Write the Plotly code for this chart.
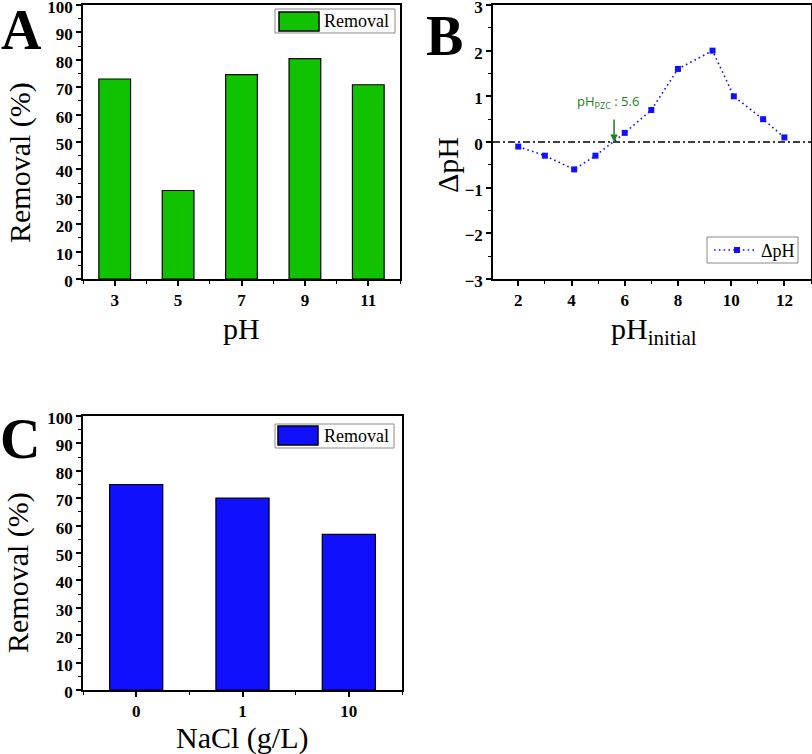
import plotly.graph_objects as go

# ---- data ----
ph_categories = ["3", "5", "7", "9", "11"]
removal_ph = [73.0, 32.3, 74.6, 80.4, 70.9]

ph_initial = [2.0, 3.0, 4.1, 4.9, 6.0, 7.0, 8.0, 9.3, 10.1, 11.2, 12.0]
delta_ph = [-0.1, -0.3, -0.6, -0.3, 0.2, 0.7, 1.6, 2.0, 1.0, 0.5, 0.1]
ph_pzc = 5.6

nacl_categories = ["0", "1", "10"]
removal_nacl = [75.0, 70.0, 56.8]

W, H = 812, 754
GREEN = "rgb(16,194,0)"
BLUE = "rgb(16,16,255)"
ANNOT_GREEN = "rgb(28,128,28)"
SERIF = "Liberation Serif"


def X(px):
    return px / W


def Y(py):
    return 1 - py / H


fig = go.Figure()

fig.add_trace(go.Bar(
    x=list(range(len(ph_categories))), y=removal_ph, width=0.5,
    marker=dict(color=GREEN, line=dict(color="black", width=1.2)),
    xaxis="x", yaxis="y", showlegend=False, name="Removal"))

fig.add_trace(go.Scatter(
    x=ph_initial, y=delta_ph, mode="lines+markers",
    line=dict(color=BLUE, width=1.6, dash="1.6px,3.2px"),
    marker=dict(symbol="square", size=6, color=BLUE),
    xaxis="x2", yaxis="y2", showlegend=False, name="ΔpH"))

fig.add_trace(go.Bar(
    x=list(range(len(nacl_categories))), y=removal_nacl, width=0.5,
    marker=dict(color=BLUE, line=dict(color="black", width=1.2)),
    xaxis="x3", yaxis="y3", showlegend=False, name="Removal"))

tickfont = dict(family=SERIF, size=17, color="black", weight="bold")
common = dict(showgrid=False, zeroline=False, showline=True, linecolor="black",
              linewidth=1.5, mirror=True, ticks="outside", ticklen=5,
              tickwidth=1.5, tickcolor="black", tickfont=tickfont,
              automargin=False, ticklabeloverflow="allow")
minor = lambda d: dict(dtick=d, ticks="outside", ticklen=3, tickwidth=1.2,
                       tickcolor="black", showgrid=False)

fig.update_layout(
    width=W, height=H, autosize=False,
    margin=dict(l=0, r=0, t=0, b=0, pad=0, autoexpand=False),
    paper_bgcolor="white", plot_bgcolor="white", showlegend=False,
    xaxis=dict(domain=[X(83), X(400)], range=[-0.5, len(ph_categories) - 0.5],
               tickmode="array", tickvals=list(range(len(ph_categories))),
               ticktext=ph_categories, minor=dict(tickmode="array",
               tickvals=[i + 0.5 for i in range(-1, len(ph_categories))],
               ticks="outside", ticklen=3, tickwidth=1.2, tickcolor="black"),
               anchor="y", **common),
    yaxis=dict(domain=[Y(279), Y(5)], range=[0, 100], dtick=10, tick0=0,
               minor=minor(5), anchor="x", ticklabelshift=2, **common),
    xaxis2=dict(domain=[X(493), X(811)], range=[1.05, 13.0], dtick=2, tick0=0,
                minor=minor(1), anchor="y2", **common),
    yaxis2=dict(domain=[Y(279), Y(5)], range=[-3, 3], dtick=1, tick0=0,
                minor=minor(0.5), anchor="x2", ticklabelshift=2, **common),
    xaxis3=dict(domain=[X(83), X(402)], range=[-0.5, len(nacl_categories) - 0.5],
                tickmode="array", tickvals=list(range(len(nacl_categories))),
                ticktext=nacl_categories, minor=dict(tickmode="array",
                tickvals=[i + 0.5 for i in range(-1, len(nacl_categories))],
                ticks="outside", ticklen=3, tickwidth=1.2, tickcolor="black"),
                anchor="y3", **common),
    yaxis3=dict(domain=[Y(690), Y(416)], range=[0, 100], dtick=10, tick0=0,
                minor=minor(5), anchor="x3", ticklabelshift=2, **common),
)

# zero reference line in panel B
fig.add_shape(type="line", xref="x2 domain", x0=0, x1=1, yref="y2", y0=0, y1=0,
              line=dict(color="black", width=1.4, dash="7px,3px,2px,3px"))

shapes = []
annots = []


def legend_box(x0, y0, x1, y1):
    shapes.append(dict(type="rect", xref="paper", yref="paper", x0=X(x0), x1=X(x1),
                       y0=Y(y1), y1=Y(y0), line=dict(color="#8a8a8a", width=1),
                       fillcolor="white", layer="above"))


def legend_text(x, y, text):
    annots.append(dict(xref="paper", yref="paper", x=X(x), y=Y(y), text=text,
                       showarrow=False, xanchor="left", yanchor="middle",
                       font=dict(family=SERIF, size=18, color="black")))


# legend A
legend_box(275, 9, 395, 33)
shapes.append(dict(type="rect", xref="paper", yref="paper", x0=X(279), x1=X(319),
                   y0=Y(31), y1=Y(12), fillcolor=GREEN,
                   line=dict(color="black", width=1.5), layer="above"))
legend_text(322, 21, "Removal")

# legend C
legend_box(275, 424, 394, 448)
shapes.append(dict(type="rect", xref="paper", yref="paper", x0=X(278), x1=X(318),
                   y0=Y(445), y1=Y(426), fillcolor=BLUE,
                   line=dict(color="black", width=1.5), layer="above"))
legend_text(322, 436, "Removal")

# legend B
legend_box(707, 237, 798, 263)
shapes.append(dict(type="line", xref="paper", yref="paper", x0=X(714), x1=X(756),
                   y0=Y(250), y1=Y(250),
                   line=dict(color=BLUE, width=1.6, dash="1.6px,3.2px"),
                   layer="above"))
shapes.append(dict(type="rect", xref="paper", yref="paper", x0=X(734), x1=X(740),
                   y0=Y(253), y1=Y(247), fillcolor=BLUE, line=dict(width=0),
                   layer="above"))
legend_text(759, 251, "ΔpH")

for s in shapes:
    fig.add_shape(**s)

# axis titles
title_font = dict(family=SERIF, size=30, color="black")
annots += [
    dict(xref="paper", yref="paper", x=X(20), y=Y(163), text="Removal (%)",
         textangle=-90, showarrow=False, font=title_font),
    dict(xref="paper", yref="paper", x=X(241), y=Y(328), text="pH",
         showarrow=False, font=title_font),
    dict(xref="paper", yref="paper", x=X(447), y=Y(165), text="ΔpH",
         textangle=-90, showarrow=False, font=title_font),
    dict(xref="paper", yref="paper", x=X(654), y=Y(331),
         text="pH<sub>initial</sub>", showarrow=False, font=title_font),
    dict(xref="paper", yref="paper", x=X(18), y=Y(573), text="Removal (%)",
         textangle=-90, showarrow=False, font=title_font),
    dict(xref="paper", yref="paper", x=X(242), y=Y(738), text="NaCl (g/L)",
         showarrow=False, font=title_font),
]

# panel letters
letter_font = dict(family=SERIF, size=56, color="black", weight="bold")
for lx, ly, t in [(21, 30, "A"), (444, 36, "B"), (20, 439, "C")]:
    annots.append(dict(xref="paper", yref="paper", x=X(lx), y=Y(ly), text=t,
                       showarrow=False, font=letter_font))

# pH_PZC annotation
annots.append(dict(xref="paper", yref="paper", x=X(608), y=Y(102),
                   text="pH<sub>PZC</sub> : 5.6", showarrow=False,
                   font=dict(family="Open Sans", size=13, color=ANNOT_GREEN)))

for a in annots:
    a.setdefault("xanchor", "center")
    a.setdefault("yanchor", "middle")
    fig.add_annotation(**a)

fig.add_annotation(xref="x2", yref="y2", x=ph_pzc, y=0, ax=0, ay=-24, text="",
                   showarrow=True, arrowhead=2, arrowsize=1, arrowwidth=1.5,
                   arrowcolor=ANNOT_GREEN)

fig.write_html(
    "out.html",
    config={"responsive": False, "displayModeBar": False},
    post_script="document.body.style.margin='0';document.body.style.padding='0';"
                "document.body.style.overflow='hidden';"
                "document.documentElement.style.overflow='hidden';",
)
